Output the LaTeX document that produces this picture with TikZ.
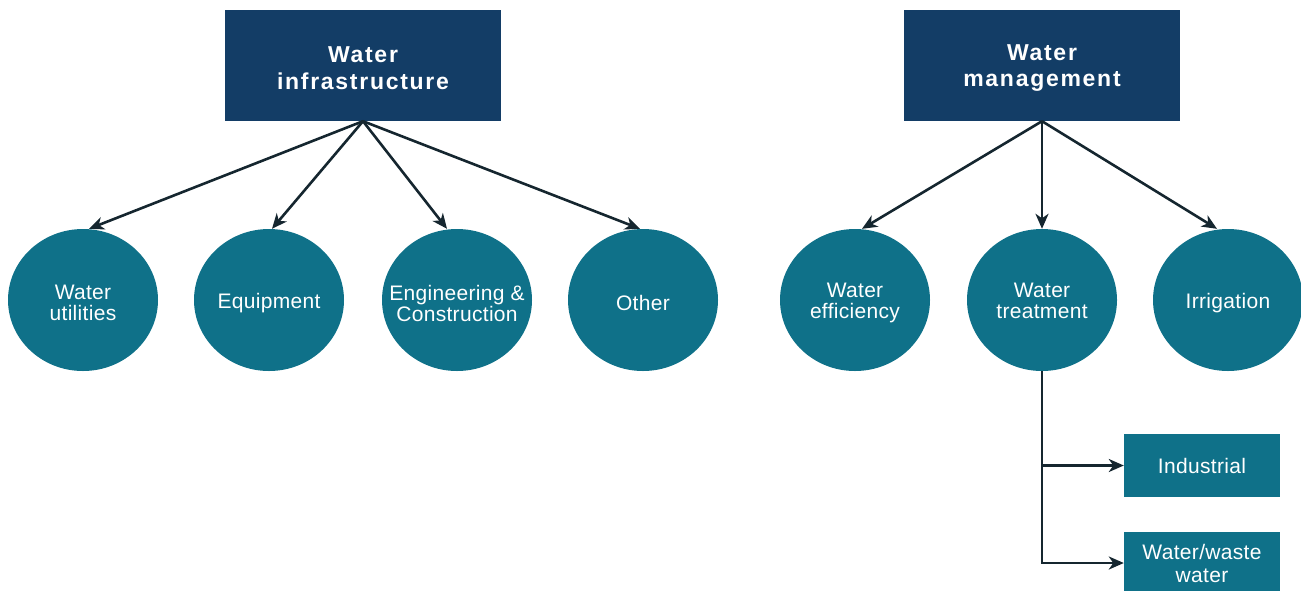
\documentclass[tikz,border=0pt]{standalone}
\usepackage{fontspec}
\setmainfont{Liberation Sans}
\newfontfamily\headfont[LetterSpace=7.5]{Liberation Sans}
\newfontfamily\bodyfont[LetterSpace=1.5]{Liberation Sans}
\usetikzlibrary{shapes.geometric,arrows.meta}
\definecolor{navy}{HTML}{133D66}
\definecolor{teal}{HTML}{0F7189}
\definecolor{ink}{HTML}{15262F}
\tikzset{
  head/.style={rectangle, fill=navy, minimum width=276pt, minimum height=111pt, inner sep=0pt},
  htext/.style={text=white, align=center, yshift=-2.5pt, inner sep=0pt,
    font=\headfont\fontsize{23}{26.5}\selectfont\bfseries},
  bubble/.style={ellipse, fill=teal, minimum width=150pt, minimum height=142pt, inner sep=0pt},
  btext/.style={text=white, align=center, yshift=-3pt, inner sep=0pt,
    font=\bodyfont\fontsize{21}{21}\selectfont},
  leaf/.style={rectangle, fill=teal, text=white, minimum width=156pt,
    inner sep=0pt, align=center, font=\bodyfont\fontsize{21}{23}\selectfont},
  link/.style={draw=ink, line width=2.6pt, -{Stealth[length=15pt,width=13pt,inset=4.5pt]}}
}
\begin{document}
\begin{tikzpicture}[x=1pt,y=-1pt]
\useasboundingbox (0,0) rectangle (1301,590);
% top-level groups
\node[head, label={[htext]center:{Water\\infrastructure}}] (infra) at (363,65.5) {};
\node[head, label={[htext]center:{Water\\management}}] (mgmt) at (1042,65.5) {};
% infrastructure branches
\node[bubble, label={[btext]center:{Water\\utilities}}] (util) at (83,300) {};
\node[bubble, label={[btext]center:Equipment}] (equip) at (269,300) {};
\node[bubble, label={[btext]center:{Engineering \&\\Construction}}] (eng) at (457,300) {};
\node[bubble, label={[btext]center:Other}] (other) at (643,300) {};
% management branches
\node[bubble, label={[btext]center:{Water\\efficiency}}] (eff) at (855,300) {};
\node[bubble, label={[btext, yshift=2pt]center:{Water\\treatment}}] (treat) at (1042,300) {};
\node[bubble, label={[btext]center:Irrigation}] (irr) at (1228,300) {};
% treatment sub-branches
\node[leaf, minimum height=63pt] (ind) at (1202,465.5) {Industrial};
\node[leaf, minimum height=62pt] (waste) at (1202,563) {Water/waste\\water};
% connectors
\draw[link] (infra.south) -- ([xshift=6pt]util.north);
\draw[link] (infra.south) -- ([xshift=3pt]equip.north);
\draw[link] (infra.south) -- ([xshift=-10pt]eng.north);
\draw[link] (infra.south) -- ([xshift=-3pt]other.north);
\draw[link] (mgmt.south) -- ([xshift=7pt]eff.north);
\draw[link] (mgmt.south) -- (treat.north);
\draw[link] (mgmt.south) -- ([xshift=-11pt]irr.north);
\coordinate (split1) at (treat.south |- ind.west);
\draw[link] (treat.south) |- (waste.west);
\draw[link] (split1) -- (ind.west);
\end{tikzpicture}
\end{document}
